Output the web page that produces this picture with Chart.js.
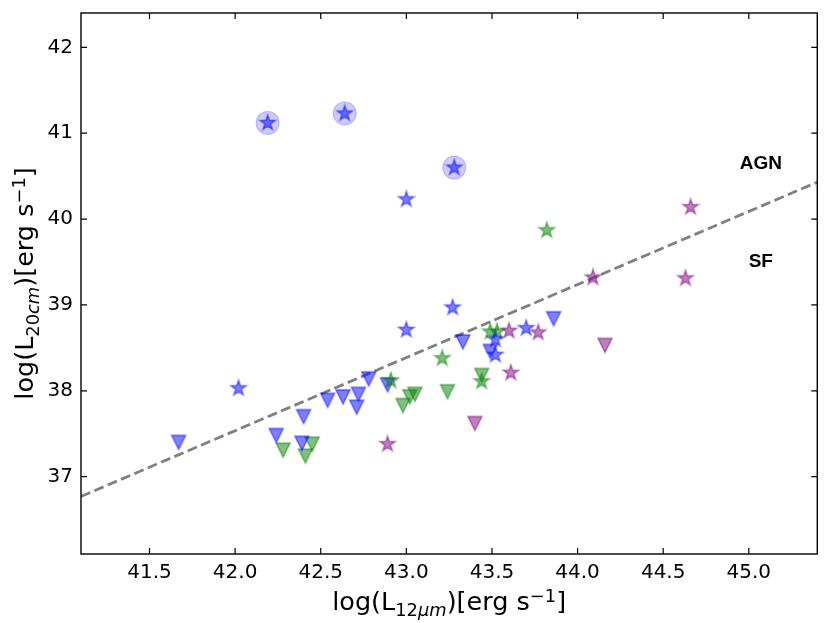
<!DOCTYPE html>
<html lang="en">
<head>
    <meta charset="UTF-8">
    <title>L20cm vs L12um</title>
    <script src="https://cdn.jsdelivr.net/npm/chart.js"></script>
    <style>
        body {
            margin: 0;
            background: #fff;
        }
        canvas {
            display: block;
        }
    </style>
</head>
<body>
    <canvas id="lumChart" width="830" height="623"></canvas>
    <script>
        // values
        const xTicks = [41.5, 42.0, 42.5, 43.0, 43.5, 44.0, 44.5, 45.0];
        const yTicks = [37, 38, 39, 40, 41, 42];

        const blueStarX = [42.19, 42.64, 43.28, 43.00, 42.02, 43.00, 43.27, 43.70, 43.52, 43.52];
        const blueStarY = [41.12, 41.23, 40.60, 40.23, 38.03, 38.71, 38.97, 38.73, 38.60, 38.42];
        const circledX = [42.19, 42.64, 43.28];
        const circledY = [41.12, 41.23, 40.60];
        const blueTriX = [41.67, 42.24, 42.40, 42.39, 42.54, 42.63, 42.72, 42.71, 42.78, 42.89, 43.33, 43.49, 43.86];
        const blueTriY = [37.40, 37.48, 37.70, 37.39, 37.89, 37.93, 37.96, 37.81, 38.14, 38.07, 38.57, 38.46, 38.84];

        const greenStarX = [43.82, 43.21, 42.91, 43.44, 43.49, 43.53];
        const greenStarY = [39.87, 38.38, 38.12, 38.11, 38.69, 38.69];
        const greenTriX = [42.28, 42.41, 42.45, 42.98, 43.02, 43.05, 43.24, 43.44];
        const greenTriY = [37.31, 37.24, 37.38, 37.83, 37.93, 37.96, 37.99, 38.18];

        const purpleStarX = [44.66, 44.63, 44.09, 43.60, 43.77, 43.61, 42.89];
        const purpleStarY = [40.14, 39.31, 39.32, 38.70, 38.68, 38.21, 37.38];
        const purpleTriX = [43.40, 44.16];
        const purpleTriY = [37.62, 38.53];

        // AGN / SF dividing line
        const lineX = [41.1, 45.4];
        const lineY = [36.77, 40.43];

        const pts = (xs, ys) => xs.map((x, i) => ({ x: x, y: ys[i] }));

        // matplotlib-like '*' marker
        function starImage(rgb) {
            const r = 8, s = 2 * (r + 2);
            const c = document.createElement('canvas');
            c.width = c.height = s;
            const g = c.getContext('2d');
            g.beginPath();
            for (let i = 0; i < 10; i++) {
                const rad = i % 2 ? r * 0.381966 : r;
                const a = -Math.PI / 2 + i * Math.PI / 5;
                g.lineTo(s / 2 + rad * Math.cos(a), s / 2 + rad * Math.sin(a));
            }
            g.closePath();
            g.fillStyle = 'rgba(' + rgb + ',0.5)';
            g.fill();
            g.strokeStyle = 'rgba(' + rgb + ',0.5)';
            g.lineWidth = 1.5;
            g.stroke();
            return c;
        }

        // matplotlib-like 'v' marker
        function triImage(rgb) {
            const h = 7, s = 2 * (h + 2);
            const c = document.createElement('canvas');
            c.width = c.height = s;
            const g = c.getContext('2d');
            g.beginPath();
            g.moveTo(s / 2, s / 2 + h);
            g.lineTo(s / 2 - h, s / 2 - h);
            g.lineTo(s / 2 + h, s / 2 - h);
            g.closePath();
            g.fillStyle = 'rgba(' + rgb + ',0.5)';
            g.fill();
            g.strokeStyle = 'rgba(' + rgb + ',0.5)';
            g.lineWidth = 1.5;
            g.stroke();
            return c;
        }

        const BLUE = '0,0,255', GREEN = '0,128,0', PURPLE = '128,0,128';

        function markerSet(label, xs, ys, img, order) {
            return {
                label: label,
                data: pts(xs, ys),
                pointStyle: img,
                pointRadius: 8,
                order: order
            };
        }

        // rich text with sub/superscripts
        function drawRich(ctx, parts, size) {
            const fontFor = p => {
                const small = p[1] !== 'n';
                const it = p[1] === 'subit' ? 'italic ' : '';
                return it + (small ? size * 0.7 : size) + 'px "DejaVu Sans"';
            };
            let total = 0;
            parts.forEach(p => { ctx.font = fontFor(p); total += ctx.measureText(p[0]).width; });
            let x = -total / 2;
            ctx.textBaseline = 'alphabetic';
            ctx.textAlign = 'left';
            ctx.fillStyle = '#000';
            parts.forEach(p => {
                ctx.font = fontFor(p);
                let dy = 0;
                if (p[1] === 'sub' || p[1] === 'subit') dy = size * 0.22;
                if (p[1] === 'sup') dy = -size * 0.32;
                ctx.fillText(p[0], x, dy);
                x += ctx.measureText(p[0]).width;
            });
        }

        const xTitle = [['log(L', 'n'], ['12', 'sub'], ['\u03bcm', 'subit'], [')[erg s', 'n'], ['\u22121', 'sup'], [']', 'n']];
        const yTitle = [['log(L', 'n'], ['20', 'sub'], ['cm', 'subit'], [')[erg s', 'n'], ['\u22121', 'sup'], [']', 'n']];

        const framePlugin = {
            id: 'frame',
            afterDraw(chart) {
                const ctx = chart.ctx, a = chart.chartArea;
                const xs = chart.scales.x, ys = chart.scales.y;
                const tl = 6;
                ctx.save();
                ctx.strokeStyle = '#000';
                ctx.lineWidth = 1.2;
                xTicks.forEach(v => {
                    const px = xs.getPixelForValue(v);
                    ctx.beginPath();
                    ctx.moveTo(px, a.bottom); ctx.lineTo(px, a.bottom - tl);
                    ctx.moveTo(px, a.top); ctx.lineTo(px, a.top + tl);
                    ctx.stroke();
                });
                yTicks.forEach(v => {
                    const py = ys.getPixelForValue(v);
                    ctx.beginPath();
                    ctx.moveTo(a.left, py); ctx.lineTo(a.left + tl, py);
                    ctx.moveTo(a.right, py); ctx.lineTo(a.right - tl, py);
                    ctx.stroke();
                });
                ctx.lineWidth = 1.4;
                ctx.strokeRect(a.left, a.top, a.right - a.left, a.bottom - a.top);

                // region labels
                ctx.fillStyle = '#000';
                ctx.font = 'bold 19px "Liberation Sans"';
                ctx.textAlign = 'center';
                ctx.textBaseline = 'middle';
                ctx.fillText('AGN', xs.getPixelForValue(45.07), ys.getPixelForValue(40.64));
                ctx.fillText('SF', xs.getPixelForValue(45.07), ys.getPixelForValue(39.50));

                // axis titles
                ctx.save();
                ctx.translate((a.left + a.right) / 2, 610);
                drawRich(ctx, xTitle, 25.5);
                ctx.restore();
                ctx.save();
                ctx.translate(33, (a.top + a.bottom) / 2);
                ctx.rotate(-Math.PI / 2);
                drawRich(ctx, yTitle, 25.5);
                ctx.restore();
                ctx.restore();
            }
        };

        const ctx = document.getElementById('lumChart').getContext('2d');
        new Chart(ctx, {
            type: 'scatter',
            data: {
                datasets: [
                    {
                        type: 'line',
                        label: 'divide',
                        data: pts(lineX, lineY),
                        borderColor: '#808080',
                        borderWidth: 2.8,
                        borderDash: [10, 4.5],
                        pointRadius: 0,
                        fill: false,
                        order: 10
                    },
                    {
                        label: 'circled',
                        data: pts(circledX, circledY),
                        pointStyle: 'circle',
                        pointRadius: 11.5,
                        backgroundColor: 'rgba(0,0,255,0.2)',
                        borderColor: 'rgba(0,0,255,0.2)',
                        borderWidth: 1.2,
                        order: 9
                    },
                    markerSet('blue v', blueTriX, blueTriY, triImage(BLUE), 5),
                    markerSet('green v', greenTriX, greenTriY, triImage(GREEN), 5),
                    markerSet('purple v', purpleTriX, purpleTriY, triImage(PURPLE), 5),
                    markerSet('blue star', blueStarX, blueStarY, starImage(BLUE), 1),
                    markerSet('green star', greenStarX, greenStarY, starImage(GREEN), 1),
                    markerSet('purple star', purpleStarX, purpleStarY, starImage(PURPLE), 1)
                ]
            },
            options: {
                responsive: false,
                animation: false,
                events: [],
                layout: {
                    padding: { top: 13, right: 12, left: 0, bottom: 0 }
                },
                plugins: {
                    legend: { display: false },
                    tooltip: { enabled: false }
                },
                scales: {
                    x: {
                        type: 'linear',
                        min: 41.1,
                        max: 45.4,
                        grid: { display: false, drawTicks: false },
                        border: { display: false },
                        afterBuildTicks: s => { s.ticks = xTicks.map(v => ({ value: v })); },
                        afterFit: s => { s.height = 69; s.paddingLeft = 0; s.paddingRight = 0; },
                        ticks: {
                            padding: 7,
                            color: '#000',
                            font: { family: 'DejaVu Sans', size: 20 },
                            callback: v => v.toFixed(1)
                        }
                    },
                    y: {
                        type: 'linear',
                        min: 36.1,
                        max: 42.4,
                        grid: { display: false, drawTicks: false },
                        border: { display: false },
                        afterBuildTicks: s => { s.ticks = yTicks.map(v => ({ value: v })); },
                        afterFit: s => { s.width = 81; s.paddingTop = 0; s.paddingBottom = 0; },
                        ticks: {
                            padding: 8,
                            color: '#000',
                            font: { family: 'DejaVu Sans', size: 20 },
                            callback: v => String(v)
                        }
                    }
                }
            },
            plugins: [framePlugin]
        });
    </script>
</body>
</html>
